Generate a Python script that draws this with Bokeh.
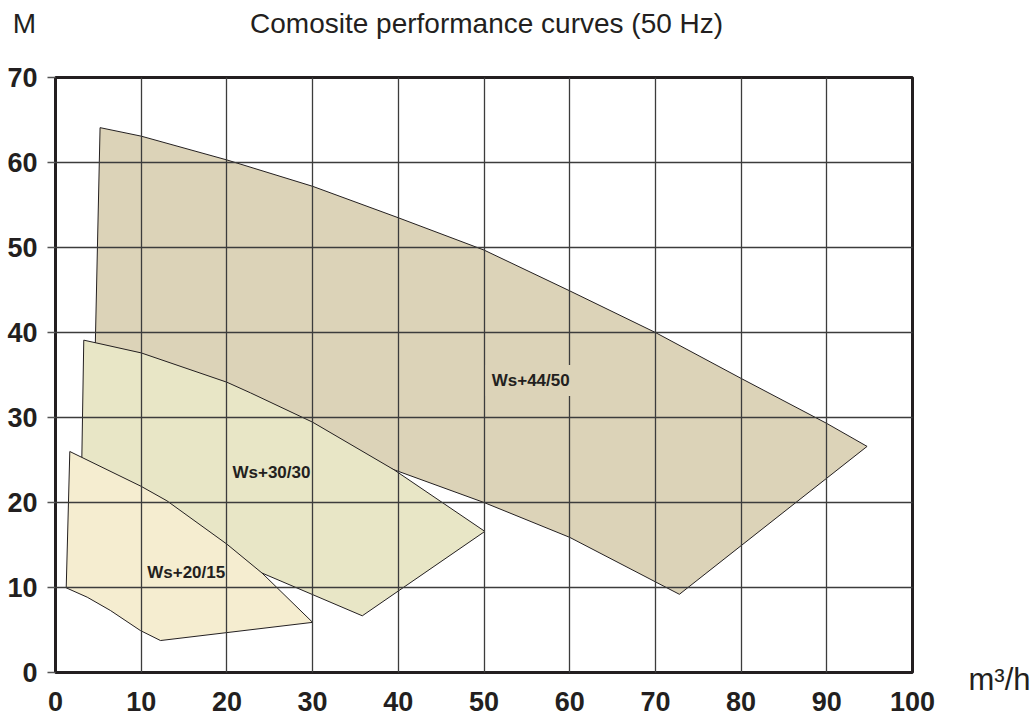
from bokeh.plotting import figure
from bokeh.models import Label, FixedTicker, LinearAxis, CustomJSTickFormatter
from bokeh.embed import file_html
from bokeh.resources import INLINE

# ---- data ----
x_ticks = [0, 10, 20, 30, 40, 50, 60, 70, 80, 90, 100]
y_ticks = [0, 10, 20, 30, 40, 50, 60, 70]

# Ws+44/50 envelope (hidden lower-left part lies under Ws+30/30)
ws44_q = [5.2, 10, 20, 30, 40, 50, 60, 70, 80, 90, 94.7, 72.8, 60, 50, 39.5, 30, 20, 4.6]
ws44_h = [64.1, 63.1, 60.3, 57.2, 53.5, 49.7, 44.9, 40.0, 34.6, 29.3, 26.6, 9.2, 15.9, 20.0, 23.85, 27.3, 31.0, 36.6]

# Ws+30/30 envelope (hidden lower-left part lies under Ws+20/15)
ws30_q = [3.3, 10, 20, 22.75, 30, 39.5, 50.1, 35.8, 24.1, 3.0]
ws30_h = [39.1, 37.6, 34.15, 32.9, 29.45, 23.85, 16.6, 6.67, 11.7, 20.8]

# Ws+20/15 envelope
ws20_q = [1.67, 10, 13.0, 20, 24.1, 30.0, 12.25, 9.9, 6.4, 3.7, 1.25]
ws20_h = [26.0, 21.9, 20.2, 15.1, 11.7, 5.9, 3.76, 4.94, 7.3, 8.86, 9.96]

names = ["Ws+44/50", "Ws+30/30", "Ws+20/15"]
fills = ["#DCD3B8", "#E8E6C6", "#F5EDD0"]
label_pos = [(50.2, 34.35), (20.65, 23.56), (10.7, 11.8)]

title_text = "Comosite performance curves (50 Hz)"
y_unit = "M"
x_unit = "m\u00b3/h"

ink = "#231F20"

p = figure(width=1035, height=716, x_range=(0, 100), y_range=(0, 70),
           output_backend="svg", toolbar_location=None, title_location=None,
           min_border_left=55, min_border_right=123,
           min_border_top=77, min_border_bottom=44)
p.background_fill_color = "white"
p.border_fill_color = "white"
p.outline_line_color = ink
p.outline_line_width = 3

for qs, hs, col in [(ws44_q, ws44_h, fills[0]), (ws30_q, ws30_h, fills[1]), (ws20_q, ws20_h, fills[2])]:
    p.patch(qs, hs, fill_color=col, line_color=ink, line_width=1)

# grid above the fills
for g in (p.xgrid, p.ygrid):
    g.level = "guide"
    g.grid_line_color = "#3C3C3C"
    g.grid_line_width = 1.3
    g.grid_line_alpha = 1.0

p.xaxis.ticker = FixedTicker(ticks=x_ticks)
p.yaxis.ticker = FixedTicker(ticks=y_ticks)
for ax in (p.xaxis, p.yaxis):
    ax.axis_line_color = None
    ax.minor_tick_line_color = None
    ax.major_label_text_font = "Liberation Sans"
    ax.major_label_text_font_style = "bold"
    ax.major_label_text_font_size = "27px"
    ax.major_label_text_color = ink
p.xaxis.major_tick_line_color = None
p.xaxis.major_label_standoff = 13
p.yaxis.major_tick_out = 8
p.yaxis.major_tick_in = 0
p.yaxis.major_tick_line_color = "#555555"
p.yaxis.major_label_standoff = 10
p.yaxis.major_tick_line_width = 1.3

plain = dict(axis_line_color=None, major_tick_line_color=None,
             minor_tick_line_color=None,
             major_label_text_font="Liberation Sans",
             major_label_text_color=ink)

# heading line: head unit "M" (left) and the chart title, on a top axis
top_axis = LinearAxis(ticker=FixedTicker(ticks=[0, 50.3]),
                      formatter=CustomJSTickFormatter(
                          args=dict(u=y_unit + "\u00a0" * 8, t=title_text),
                          code="return tick < 1 ? u : t;"),
                      major_label_standoff=33,
                      major_label_text_font_size="28px", **plain)
p.add_layout(top_axis, "above")

# unit of the flow axis, on a right-hand axis
unit_axis = LinearAxis(ticker=FixedTicker(ticks=[1.68]),
                       formatter=CustomJSTickFormatter(args=dict(u=x_unit),
                                                       code="return '\\n' + u;"),
                       major_label_standoff=50,
                       major_label_text_font_size="31px", **plain)
p.add_layout(unit_axis, "right")

# region labels
for i, (nm, (lx, ly)) in enumerate(zip(names, label_pos)):
    kw = {}
    if i == 0:
        kw = dict(background_fill_color=fills[0], padding=6)
    p.add_layout(Label(x=lx, y=ly, text=nm, text_font="Liberation Sans",
                       text_font_style="bold", text_font_size="17px",
                       text_color=ink, text_baseline="alphabetic", **kw))

open("out.html", "w").write(file_html(p, INLINE))
